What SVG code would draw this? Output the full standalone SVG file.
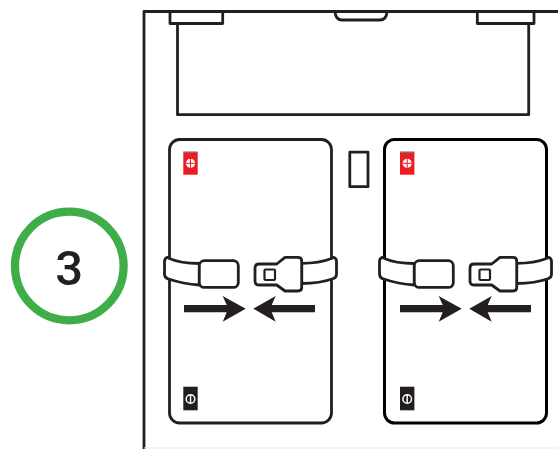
<svg xmlns="http://www.w3.org/2000/svg" width="558" height="449" viewBox="0 0 558 449">
<style>
.l{fill:none;stroke:#231f20;stroke-width:2.800;stroke-linejoin:round}
.w{fill:#fff;stroke:#231f20;stroke-width:2.800;stroke-linejoin:round}
.a{fill:#231f20}
.k{fill:none;stroke:#fff;stroke-width:1.500}
</style>
<defs>
<g id="belt">
<path class="w" d="M199.300 263.500C187 263.500 176 261.500 169.500 258.500L167.500 257.300C165.500 258 164.500 259.500 164.500 261.500V274C164.500 276.500 165.500 278 168 278.800C177 282 188 284.500 199.300 285Z"/>
<rect class="w" x="199.300" y="260.700" width="39" height="26.700" rx="5"/>
<path class="w" d="M301.700 263.300C314 263.300 324 261.500 331.500 258.500L333.500 257.300C335.500 258 336.500 259.500 336.500 261.500V274C336.500 276.500 335.500 277.800 333.500 278.500C324 282 314 283.500 301.700 283.500Z"/>
<path class="w" d="M259 264H276.700L285 257.300H298C300.500 257.300 301.700 258.800 301.700 261V287.500C301.700 289.800 300.500 291 298 291H285L276.700 285H259C256.500 285 255 283.500 255 281V268C255 265.500 256.500 264 259 264Z"/>
<rect x="264.500" y="269.500" width="10.500" height="10.500" rx="1" fill="none" stroke="#231f20" stroke-width="2.200"/>
</g>
<g id="arrows">
<path class="a" d="M184 305H226.700L222.700 296L245.700 308.700L222.700 321.700L226.700 312.300H184Z"/>
<path class="a" d="M315 305H271.700L275.700 296L253.300 308.700L275.700 321.700L271.700 312.300H315Z"/>
</g>
<g id="plus">
<rect x="183.300" y="151.700" width="14.400" height="23" fill="#ed1c24"/>
<rect x="183.300" y="151.700" width="14.400" height="1.200" fill="#777"/>
<circle cx="190.500" cy="163.300" r="4.600" fill="#fff"/>
<path d="M190.500 158.700V167.900M185.900 163.300H195.100" stroke="#ed1c24" stroke-width="1" fill="none"/>
</g>
<g id="minus">
<rect x="183.300" y="386.700" width="14.400" height="23.600" fill="#231f20"/>
<circle cx="190.500" cy="399" r="4.300" class="k"/>
<path class="k" d="M190.500 394.700V403.300"/>
</g>
</defs>
<rect width="558" height="449" fill="#fff"/>
<g id="step-badge">
<circle cx="69.300" cy="266" r="54.300" fill="none" stroke="#3fae49" stroke-width="8.300"/>
<text x="69.300" y="285" font-family="Roboto,'Liberation Sans',Arial,sans-serif" font-size="49" font-weight="500" text-anchor="middle" fill="#231f20">3</text>
</g>
<g id="case">
<path class="l" d="M144 449V11.500H558"/>
<path class="l" d="M177.500 23.500V114.700H528.700V23.500"/>
<path class="l" d="M170 12V23.500H222.700V12"/>
<path class="l" d="M477.300 12V23.500H534V12"/>
<path class="l" d="M335 12C335.500 17.500 337.500 20 342 20H380C384.500 20 386.500 17.500 387 12"/>
<rect class="l" x="349.800" y="152.200" width="18.200" height="34.500"/>
<path d="M144 448H558" stroke="#e6e6e6" stroke-width="1"/>
</g>
<g id="battery-left">
<rect class="l" x="169.500" y="139.500" width="162" height="283.500" rx="10"/>
<use href="#plus"/>
<use href="#minus"/>
<use href="#belt"/>
<use href="#arrows"/>
</g>
<g id="battery-right">
<rect x="384.500" y="139.500" width="162" height="283.500" rx="10" fill="none" stroke="#000" stroke-width="3"/>
<use href="#plus" x="216.700"/>
<use href="#minus" x="216.700"/>
<use href="#belt" x="215"/>
<use href="#arrows" x="216"/>
</g>
<g id="connectors"/>
</svg>
